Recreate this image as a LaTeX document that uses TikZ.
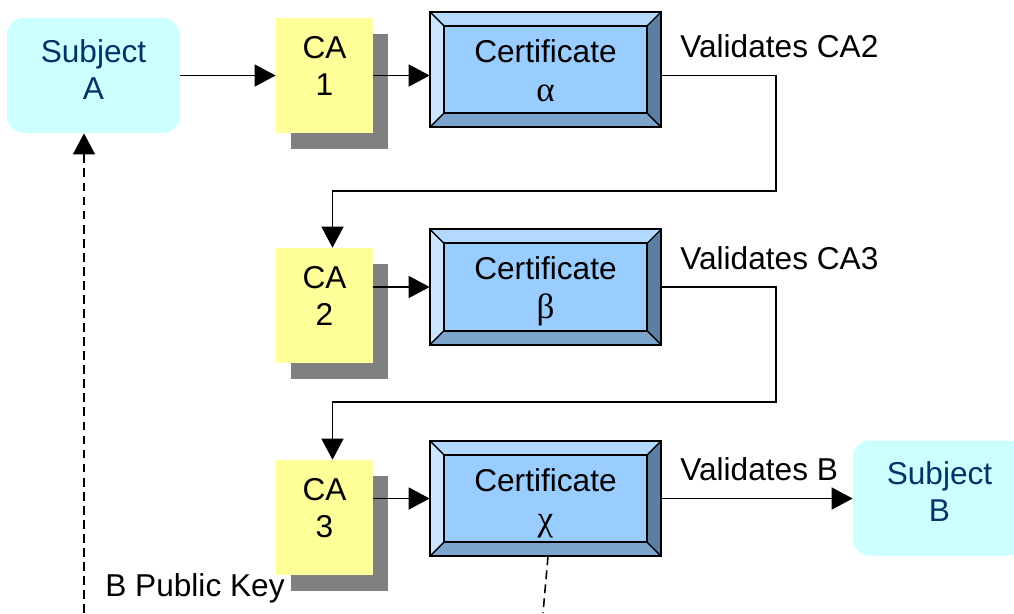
\documentclass[tikz,border=0pt]{standalone}
\usepackage{fontspec}
\setmainfont{Liberation Sans}
\newfontfamily\greekfont{Liberation Serif}
\usepackage{tikz}
\usetikzlibrary{arrows.meta}
\usetikzlibrary{backgrounds}
\usetikzlibrary{calc}
\usetikzlibrary{shadows}

\definecolor{subjfill}{HTML}{CCFFFF}
\definecolor{subjtext}{HTML}{003366}
\definecolor{cayellow}{HTML}{FFFF99}
\definecolor{cashadow}{HTML}{808080}
\definecolor{certin}{HTML}{99CCFF}
\definecolor{bevtop}{HTML}{B3D9FF}
\definecolor{bevleft}{HTML}{CCE6FF}
\definecolor{bevbot}{HTML}{7CA5CE}
\definecolor{bevright}{HTML}{5B7EA3}

\newcommand{\grk}[1]{{\greekfont\fontsize{20}{22}\selectfont #1}}

\begin{document}
\begin{tikzpicture}[x=0.02cm, y=-0.02cm,
  every node/.style={font=\fontsize{18}{21}\selectfont},
  subject/.style={fill=subjfill, text=subjtext, rounded corners=0.34cm,
    minimum width=3.46cm, minimum height=2.3cm, align=center, text depth=7pt},
  ca/.style={fill=cayellow, minimum width=1.94cm, minimum height=2.3cm,
    align=center, text depth=11pt,
    drop shadow={shadow xshift=0.3cm, shadow yshift=-0.32cm, fill=cashadow, opacity=1}},
  cert/.style={minimum width=4.62cm, minimum height=2.3cm, align=center,
    font=\fontsize{18}{22}\selectfont, text height=36pt, text depth=0pt},
  link/.style={line width=1.1pt, -{Triangle[length=12pt,width=12.5pt]}},
  lbl/.style={anchor=base west, inner sep=0pt}]
\useasboundingbox (0,0) rectangle (1014,613);

\node[subject] (subA) at (93.5,75.5) {Subject\\A};
\node[ca] (ca1) at (324.5,75.5) {CA\\1};
\node[cert] (certa) at (545.5,69.5) {Certificate\\\grk{α}};
\node[ca] (ca2) at (324.5,305.5) {CA\\2};
\node[cert] (certb) at (545.5,287) {Certificate\\\grk{β}};
\node[ca] (ca3) at (324.5,517.5) {CA\\3};
\node[cert] (certc) at (545.5,498.5) {Certificate\\\grk{χ}};
\node[subject] (subB) at (939.5,498) {Subject\\B};

% bevelled certificate frames
\begin{scope}[on background layer]
\foreach \nm in {certa,certb,certc} {
  \coordinate (tl) at ($(\nm.north west)+(14,14)$);
  \coordinate (tr) at ($(\nm.north east)+(-14,14)$);
  \coordinate (bl) at ($(\nm.south west)+(14,-14)$);
  \coordinate (br) at ($(\nm.south east)+(-14,-14)$);
  \fill[bevtop] (\nm.north west) -- (\nm.north east) -- (tr) -- (tl) -- cycle;
  \fill[bevright] (\nm.north east) -- (\nm.south east) -- (br) -- (tr) -- cycle;
  \fill[bevbot] (\nm.south east) -- (\nm.south west) -- (bl) -- (br) -- cycle;
  \fill[bevleft] (\nm.south west) -- (\nm.north west) -- (tl) -- (bl) -- cycle;
  \fill[certin] (tl) rectangle (br);
  \draw[line width=1.1pt] (tl) rectangle (br) (\nm.north west) rectangle (\nm.south east);
  \draw[line width=0.8pt] (\nm.north west) -- (tl) (\nm.north east) -- (tr)
    (\nm.south east) -- (br) (\nm.south west) -- (bl);
}
\end{scope}

\draw[link] (subA) -- (ca1);
\draw[link] (ca1.east) -- (ca1.east -| certa.west);
\coordinate (turna) at (776,191);
\draw[link] (ca1.east -| certa.east) -| (turna) -| ([xshift=0.16cm]ca2.north);
\draw[link] (ca2.east |- certb) -- (certb);
\coordinate (turnb) at (776,402);
\draw[link] (certb.east) -| (turnb) -| ([xshift=0.16cm]ca3.north);
\draw[link] (ca3.east |- certc) -- (certc);
\draw[link] (certc) -- (subB.west |- certc);

\coordinate (keyend) at (84,613);
\draw[link, line width=0.9pt, dash pattern=on 5pt off 3pt] (keyend) -- (subA.south -| keyend);
\coordinate (chiend) at (543,613);
\draw[line width=0.9pt, dash pattern=on 5pt off 3pt] ([xshift=0.05cm]certc.south) -- (chiend);

\node[lbl] (valca2) at (680,57) {Validates CA2};
\node[lbl] (valca3) at (680,269) {Validates CA3};
\node[lbl] (valb) at (680,480) {Validates B};
\node[lbl] (pubkey) at (105,596) {B Public Key};
\end{tikzpicture}
\end{document}
